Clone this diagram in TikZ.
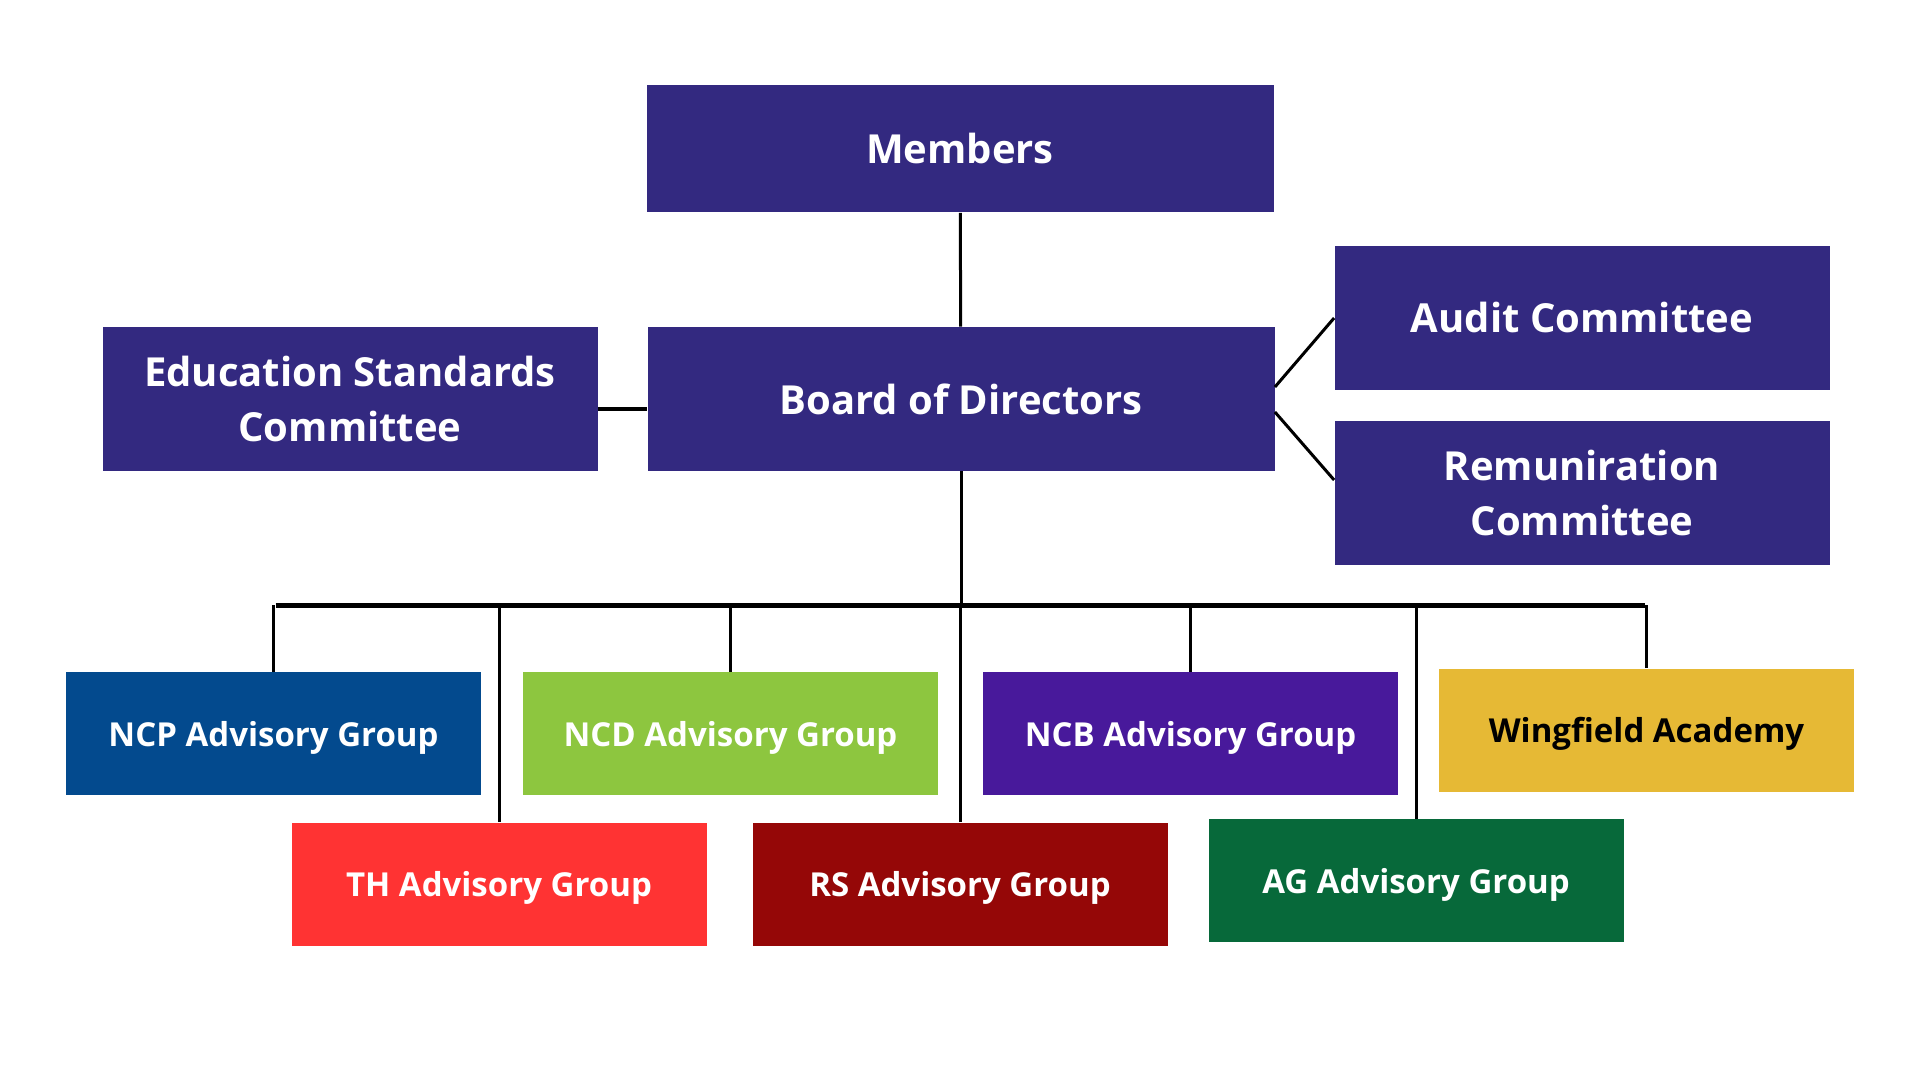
\documentclass[tikz,border=0pt]{standalone}
\usepackage{fontspec}
\setmainfont{Open Sans}
\usepackage{tikz}
\usetikzlibrary{positioning}
\definecolor{boardblue}{RGB}{51,41,128}
\definecolor{ncpblue}{RGB}{3,74,142}
\definecolor{ncdgreen}{RGB}{141,198,63}
\definecolor{ncbpurple}{RGB}{72,25,155}
\definecolor{wingyellow}{RGB}{230,185,53}
\definecolor{thred}{RGB}{255,51,51}
\definecolor{rsred}{RGB}{149,7,7}
\definecolor{aggreen}{RGB}{7,105,58}

\tikzset{
	govbox/.style={fill=boardblue, text=white, font=\bfseries\fontsize{20}{27.5}\selectfont,
		align=center, inner sep=0pt, minimum width=247.5pt, minimum height=72pt},
	groupbox/.style={text=white, font=\bfseries\fontsize{16.5}{20}\selectfont,
		text depth=0pt, inner sep=0pt, minimum width=207.5pt, minimum height=61.5pt},
	link/.style={line width=1.5pt, black},
}

\begin{document}
\begin{tikzpicture}[x=0.5pt, y=-0.5pt]
	\useasboundingbox (0,0) rectangle (1920,1080);
	% Define nodes
	\node[govbox, minimum width=313.5pt, minimum height=63.5pt] (members) at (960,149) {Members};
	\node[govbox, minimum width=313.5pt] (board) at (961,399) {Board of Directors};
	\node[govbox] (edu) at (350,399) {Education Standards\\Committee};
	\node[govbox] (audit) at (1582,318) {Audit Committee};
	\node[govbox] (remun) at (1582,493) {Remuniration\\Committee};
	% advisory groups
	\node[groupbox, fill=ncpblue]   (ncp)  at (273.5,733.5) {NCP Advisory Group};
	\node[groupbox, fill=ncdgreen]  (ncd)  at (730.5,733.5) {NCD Advisory Group};
	\node[groupbox, fill=ncbpurple] (ncb)  at (1190.5,733.5) {NCB Advisory Group};
	\node[groupbox, fill=wingyellow, text=black] (wing) at (1646.5,730) {Wingfield Academy};
	\node[groupbox, fill=thred]     (th)   at (499,884) {TH Advisory Group};
	\node[groupbox, fill=rsred]     (rs)   at (960,884) {RS Advisory Group};
	\node[groupbox, fill=aggreen]   (ag)   at (1416,880.5) {AG Advisory Group};
	\coordinate (busL) at (275.5,605);
	\coordinate (busR) at (1644.5,605);
	% Connect the nodes
	\draw[link] (members) -- (board);
	\draw[link, line width=2pt] (edu.east |- 0,409) -- (board.west |- 0,409);
	\draw[link] (board.east |- 0,387) -- (audit.west |- 0,318);
	\draw[link] (board.east |- 0,412) -- (remun.west |- 0,480);
	\draw[link] (board.south) -- (board.south |- busL);
	\draw[link, line width=2.5pt] (busL) -- (busR);
	\foreach \g in {ncp,th,ncd,rs,ncb,ag,wing}
		\draw[link] (\g.north) -- (\g.north |- busL);
\end{tikzpicture}
\end{document}
